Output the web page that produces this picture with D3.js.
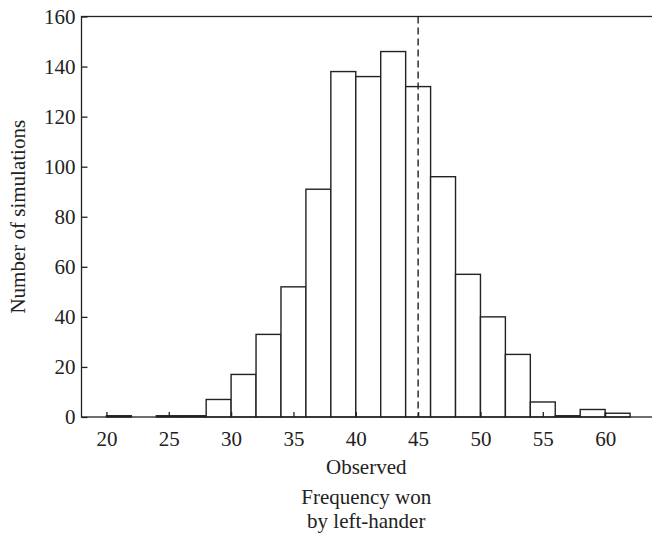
<!DOCTYPE html>
<html>
<head>
<meta charset="utf-8">
<script src="https://cdn.jsdelivr.net/npm/d3@7"></script>
<style>
  body { margin: 0; background: #fff; }
  svg { display: block; }
  text { font-family: "Liberation Serif", "DejaVu Serif", serif; fill: #222; }
</style>
</head>
<body>
<div id="chart"></div>
<script>
// histogram bins (left edge, width 2) and counts
var binStarts = [20, 22, 24, 26, 28, 30, 32, 34, 36, 38, 40, 42, 44, 46, 48, 50, 52, 54, 56, 58, 60];
var binCounts = [0.5, 0, 0.5, 0.5, 7, 17, 33, 52, 91, 138, 136, 146, 132, 96, 57, 40, 25, 6, 0.5, 3, 1.5];
var binWidth = 2;
var observed = 45;

var xTicks = [20, 25, 30, 35, 40, 45, 50, 55, 60];
var yTicks = [0, 20, 40, 60, 80, 100, 120, 140, 160];

var W = 652, H = 536;
var margin = { top: 16.5, right: -3, bottom: 119, left: 81.5 };
var width = W - margin.left - margin.right,
    height = H - margin.top - margin.bottom;

var svg = d3.select("#chart").append("svg")
    .attr("width", W)
    .attr("height", H);

var g = svg.append("g")
    .attr("transform", "translate(" + margin.left + "," + margin.top + ")");

var x = d3.scaleLinear().domain([18, 64]).range([0, width]);
var y = d3.scaleLinear().domain([0, 160]).range([height, 0]);

// bars
g.selectAll(".bar")
    .data(binStarts.map(function(s, i) { return { x0: s, n: binCounts[i] }; })
        .filter(function(d) { return d.n > 0; }))
    .enter().append("rect")
    .attr("class", "bar")
    .attr("x", function(d) { return x(d.x0); })
    .attr("width", function(d) { return x(d.x0 + binWidth) - x(d.x0); })
    .attr("y", function(d) { return y(d.n); })
    .attr("height", function(d) { return y(0) - y(d.n); })
    .attr("fill", "white")
    .attr("stroke", "#222")
    .attr("stroke-width", 1.4);

// frame
g.append("rect")
    .attr("width", width)
    .attr("height", height)
    .attr("fill", "none")
    .attr("stroke", "#222")
    .attr("stroke-width", 1.3);

// axes, ticks pointing inward
var xAxis = g.append("g")
    .attr("transform", "translate(0," + height + ")")
    .call(d3.axisBottom(x).tickValues(xTicks).tickSizeInner(-5).tickSizeOuter(0).tickPadding(14));

var yAxis = g.append("g")
    .call(d3.axisLeft(y).tickValues(yTicks).tickSizeInner(-6).tickSizeOuter(0).tickPadding(6));

[xAxis, yAxis].forEach(function(a) {
    a.select(".domain").remove();
    a.selectAll("line").attr("stroke", "#222").attr("stroke-width", 1.3);
    a.selectAll("text")
        .style("font-family", "Liberation Serif, DejaVu Serif, serif")
        .style("font-size", "21px")
        .attr("fill", "#222");
});

// observed value
g.append("line")
    .attr("x1", x(observed)).attr("x2", x(observed))
    .attr("y1", 0).attr("y2", height)
    .attr("stroke", "#222")
    .attr("stroke-width", 1.4)
    .attr("stroke-dasharray", "7,4");

// labels
var cx = (81.5 + 651) / 2;
svg.append("text")
    .attr("x", cx).attr("y", 474)
    .attr("text-anchor", "middle")
    .style("font-size", "21px")
    .text("Observed");

svg.append("text")
    .attr("x", cx).attr("y", 504)
    .attr("text-anchor", "middle")
    .style("font-size", "21px")
    .text("Frequency won");

svg.append("text")
    .attr("x", cx).attr("y", 528)
    .attr("text-anchor", "middle")
    .style("font-size", "21px")
    .text("by left-hander");

svg.append("text")
    .attr("transform", "translate(25," + (margin.top + height / 2) + ") rotate(-90)")
    .attr("text-anchor", "middle")
    .style("font-size", "21px")
    .text("Number of simulations");
</script>
</body>
</html>
